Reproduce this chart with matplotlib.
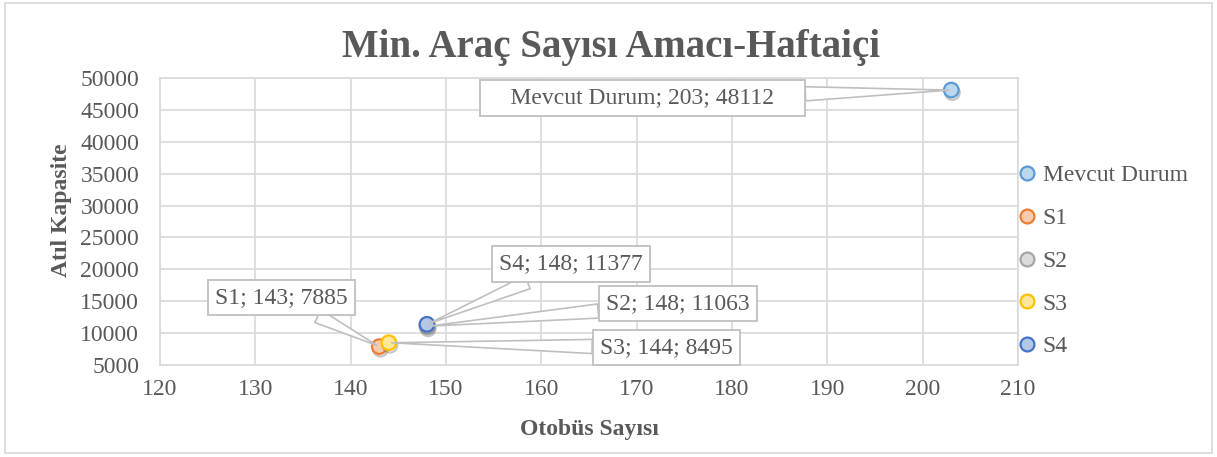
import matplotlib.pyplot as plt
import matplotlib.patches as mpatches
import matplotlib.patheffects as pe
from matplotlib.lines import Line2D

plt.rcParams['font.family'] = ['Liberation Serif', 'DejaVu Serif']

seriesNames = ['Mevcut Durum', 'S1', 'S2', 'S3', 'S4']
busCounts = [203, 143, 148, 144, 148]
idleCapacity = [48112, 7885, 11063, 8495, 11377]
fillColors = ['#bdd7ee', '#f8cbad', '#dbdbdb', '#ffe699', '#b4c7e7']
edgeColors = ['#5b9bd5', '#ed7d31', '#a5a5a5', '#ffc000', '#4472c4']

# where each callout box sits (data coords)
labelPositions = [(170.6, 46865), (132.7, 15520), (174.3, 14580), (173.1, 7690), (163.1, 20850)]
# the first box was stretched wider in the original
labelPadding = ['    ', '', '', '', '']

textColor = '#595959'
gridColor = '#d9d9d9'

fig = plt.figure(figsize=(12.17, 4.57), dpi=100)
ax = fig.add_axes([0.1315, 0.2013, 0.705, 0.6280])

shadow = [pe.SimpleLineShadow(offset=(0.8, -1.8), shadow_color='#7f7f7f', alpha=0.45), pe.Normal()]

handles = []
for name, x, y, fc, ec in zip(seriesNames, busCounts, idleCapacity, fillColors, edgeColors):
    ax.plot([x], [y], linestyle='none', marker='o', markersize=10.5,
            markerfacecolor=fc, markeredgecolor=ec, markeredgewidth=1.6,
            path_effects=shadow, zorder=3)
    handles.append(Line2D([], [], linestyle='none', marker='o', markersize=10,
                          markerfacecolor=fc, markeredgecolor=ec, markeredgewidth=1.6,
                          label=name))

for name, x, y, pos, padStr in zip(seriesNames, busCounts, idleCapacity, labelPositions, labelPadding):
    ax.annotate(f'{padStr}{name}; {x}; {y}{padStr}', xy=(x, y), xytext=pos,
                ha='center', va='center', fontsize=17, color=textColor,
                annotation_clip=False, zorder=4,
                bbox=dict(boxstyle='square,pad=0.3', fc='white', ec='#bfbfbf', lw=1.3),
                arrowprops=dict(arrowstyle='wedge,tail_width=0.6,shrink_factor=0.5',
                                fc='white', ec='#bfbfbf', lw=1.2,
                                shrinkA=0, shrinkB=2))

ax.set_xlim(120, 210)
ax.set_ylim(5000, 50000)
ax.set_xticks(range(120, 211, 10))
ax.set_yticks(range(5000, 50001, 5000))
ax.grid(True, color=gridColor, linewidth=1.2)
ax.set_axisbelow(True)
for spine in ax.spines.values():
    spine.set_color(gridColor)
    spine.set_linewidth(1.2)
ax.tick_params(axis='x', length=0, labelsize=17, colors=textColor, pad=10)
ax.tick_params(axis='y', length=0, labelsize=17, colors=textColor, pad=15)

ax.set_xlabel('Otobüs Sayısı', fontsize=17, fontweight='bold', color=textColor, labelpad=14)
ax.set_ylabel('Atıl Kapasite', fontsize=17, fontweight='bold', color=textColor, labelpad=6)
ax.yaxis.label.set_y(0.54)
fig.text(0.502, 1 - 57 / 457, 'Min. Araç Sayısı Amacı-Haftaiçi', ha='center', va='baseline',
         fontsize=28, fontweight='bold', color=textColor)

leg = ax.legend(handles=handles, loc='center left', bbox_to_anchor=(1.0, 0.362), frameon=False,
                fontsize=17, labelspacing=0.9, handletextpad=0.25, handlelength=0.8,
                borderaxespad=0, borderpad=0)
for t in leg.get_texts():
    t.set_color(textColor)

fig.patches.append(mpatches.Rectangle((0.004, 0.008), 0.992, 0.985, transform=fig.transFigure,
                                      fill=False, ec=gridColor, lw=1.2))

fig.savefig('out.png', dpi=100)
